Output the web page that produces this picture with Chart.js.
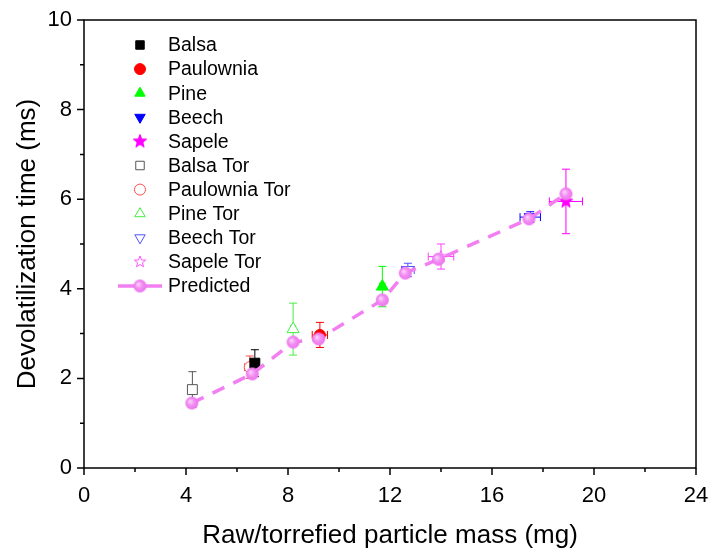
<!DOCTYPE html>
<html>
<head>
<meta charset="utf-8">
<script src="https://cdn.jsdelivr.net/npm/chart.js@4.4.1/dist/chart.umd.min.js"></script>
<style>
  html, body { margin: 0; background: #fff; }
  #wrap { width: 708px; height: 551px; }
</style>
</head>
<body>
<div id="wrap"><canvas id="chart"></canvas></div>
<script>
// --- Values (mass in mg, time in ms) ---
const balsaX = [6.7],   balsaY = [2.34], balsaErrX = [0.15], balsaErrY = [0.3];
const paulX = [9.25],   paulY = [2.97],  paulErrX = [0.3],   paulErrY = [0.28];
const pineX = [11.7],   pineY = [4.05],  pineErrX = [0.1],   pineErrY = [0.45];
const beechX = [17.5],  beechY = [5.6],  beechErrX = [0.4],  beechErrY = [0.12];
const sapeleX = [18.9], sapeleY = [5.95], sapeleErrX = [0.65], sapeleErrY = [0.72];

const balsaTorX = [4.25],  balsaTorY = [1.75],  balsaTorErrX = [0.05], balsaTorErrY = [0.4];
const paulTorX = [6.5],    paulTorY = [2.25],   paulTorErrX = [0.2],   paulTorErrY = [0.25];
const pineTorX = [8.2],    pineTorY = [3.1],    pineTorErrX = [0.1],   pineTorErrY = [0.58];
const beechTorX = [12.7],  beechTorY = [4.42],  beechTorErrX = [0.25], beechTorErrY = [0.15];
const sapeleTorX = [14.0], sapeleTorY = [4.72], sapeleTorErrX = [0.5], sapeleTorErrY = [0.28];

const predX = [4.23, 6.6, 8.2, 9.2, 11.7, 12.6, 13.9, 17.45, 18.9];
const predY = [1.45, 2.1, 2.81, 2.88, 3.75, 4.35, 4.66, 5.56, 6.12];

const xTicks = [0, 4, 8, 12, 16, 20, 24];
const yTicks = [0, 2, 4, 6, 8, 10];

const FONT = "'Liberation Sans', Arial, sans-serif";

// --- marker images (filled / open star, shaded ball) ---
function makeStar(r, fill, stroke) {
  const c = document.createElement('canvas');
  c.width = c.height = Math.ceil(r * 2 + 2);
  const g = c.getContext('2d');
  const cx = c.width / 2, cy = c.height / 2;
  g.beginPath();
  for (let i = 0; i < 10; i++) {
    const rad = i % 2 ? r * 0.42 : r;
    const a = -Math.PI / 2 + i * Math.PI / 5;
    g.lineTo(cx + rad * Math.cos(a), cy + rad * Math.sin(a));
  }
  g.closePath();
  g.fillStyle = fill;
  g.fill();
  g.strokeStyle = stroke;
  g.lineWidth = 1;
  g.stroke();
  return c;
}
function makeBall(r) {
  const c = document.createElement('canvas');
  c.width = c.height = r * 2 + 2;
  const g = c.getContext('2d');
  const cx = c.width / 2, cy = c.height / 2;
  const grad = g.createRadialGradient(cx - r * 0.3, cy - r * 0.3, 0.5, cx, cy, r);
  grad.addColorStop(0, '#fbd4fb');
  grad.addColorStop(0.5, '#f38ef3');
  grad.addColorStop(1, '#ec72ec');
  g.beginPath();
  g.arc(cx, cy, r, 0, Math.PI * 2);
  g.fillStyle = grad;
  g.fill();
  return c;
}
const starFilled = makeStar(7, '#ff00ff', '#ff00ff');
const starOpen = makeStar(6, '#ffffff', '#ff55ff');
const ball = makeBall(6.5);

function series(label, xs, ys, ex, ey, color, style, extra) {
  return Object.assign({
    label: label,
    data: xs.map((x, i) => ({ x: x, y: ys[i], ex: ex[i], ey: ey[i] })),
    errColor: color,
    pointStyle: style,
    pointBorderColor: color,
    pointBackgroundColor: color,
    pointBorderWidth: 1,
    pointRadius: 6,
    order: 1
  }, extra || {});
}

const datasets = [
  series('Balsa', balsaX, balsaY, balsaErrX, balsaErrY, '#000000', 'rect', { pointRadius: 7 }),
  series('Paulownia', paulX, paulY, paulErrX, paulErrY, '#ff0000', 'circle', { pointRadius: 5.5 }),
  series('Pine', pineX, pineY, pineErrX, pineErrY, '#00ff00', 'triangle', { pointRadius: 7 }),
  series('Beech', beechX, beechY, beechErrX, beechErrY, '#0000ff', 'triangle', { pointRadius: 7, pointRotation: 180 }),
  series('Sapele', sapeleX, sapeleY, sapeleErrX, sapeleErrY, '#ff00ff', starFilled),
  series('Balsa Tor', balsaTorX, balsaTorY, balsaTorErrX, balsaTorErrY, '#555555', 'rect', { pointRadius: 7, pointBackgroundColor: '#ffffff' }),
  series('Paulownia Tor', paulTorX, paulTorY, paulTorErrX, paulTorErrY, '#ff5050', 'circle', { pointRadius: 5.5, pointBackgroundColor: '#ffffff' }),
  series('Pine Tor', pineTorX, pineTorY, pineTorErrX, pineTorErrY, '#40f040', 'triangle', { pointRadius: 7, pointBackgroundColor: '#ffffff' }),
  series('Beech Tor', beechTorX, beechTorY, beechTorErrX, beechTorErrY, '#5050ff', 'triangle', { pointRadius: 7, pointRotation: 180, pointBackgroundColor: '#ffffff' }),
  series('Sapele Tor', sapeleTorX, sapeleTorY, sapeleTorErrX, sapeleTorErrY, '#ff40ff', starOpen),
  {
    label: 'Predicted',
    data: predX.map((x, i) => ({ x: x, y: predY[i] })),
    showLine: true,
    borderColor: '#f27ef2',
    borderWidth: 3.5,
    borderDash: [13, 10],
    pointStyle: ball,
    pointRadius: 6.5,
    order: 0
  }
];

// --- error bars, drawn under the markers ---
const errorBars = {
  id: 'errorBars',
  beforeDatasetsDraw(chart) {
    const { ctx, scales: { x, y } } = chart;
    ctx.save();
    ctx.lineWidth = 1;
    chart.data.datasets.forEach(ds => {
      if (!ds.errColor) return;
      ctx.strokeStyle = ds.errColor;
      ds.data.forEach(d => {
        const px = x.getPixelForValue(d.x), py = y.getPixelForValue(d.y);
        const top = y.getPixelForValue(d.y + d.ey), bot = y.getPixelForValue(d.y - d.ey);
        const lft = x.getPixelForValue(d.x - d.ex), rgt = x.getPixelForValue(d.x + d.ex);
        ctx.beginPath();
        ctx.moveTo(px, top); ctx.lineTo(px, bot);
        ctx.moveTo(px - 4, top); ctx.lineTo(px + 4, top);
        ctx.moveTo(px - 4, bot); ctx.lineTo(px + 4, bot);
        if (rgt - lft > 3) {
          ctx.moveTo(lft, py); ctx.lineTo(rgt, py);
          ctx.moveTo(lft, py - 4); ctx.lineTo(lft, py + 4);
          ctx.moveTo(rgt, py - 4); ctx.lineTo(rgt, py + 4);
        }
        ctx.stroke();
      });
    });
    ctx.restore();
  }
};

// --- axis frame with major / minor ticks ---
const frame = {
  id: 'frame',
  beforeDraw(chart) {
    const ctx = chart.ctx;
    ctx.save();
    ctx.fillStyle = '#fff';
    ctx.fillRect(0, 0, chart.width, chart.height);
    ctx.restore();
  },
  afterDraw(chart) {
    const { ctx, chartArea: a, scales: { x, y } } = chart;
    ctx.save();
    ctx.strokeStyle = '#000';
    ctx.lineWidth = 1.5;
    ctx.strokeRect(a.left, a.top, a.right - a.left, a.bottom - a.top);
    ctx.beginPath();
    for (let v = 0; v <= 24; v += 2) {
      const px = x.getPixelForValue(v);
      ctx.moveTo(px, a.bottom); ctx.lineTo(px, a.bottom + (v % 4 === 0 ? 7 : 4));
    }
    for (let v = 0; v <= 10; v += 1) {
      const py = y.getPixelForValue(v);
      ctx.moveTo(a.left, py); ctx.lineTo(a.left - (v % 2 === 0 ? 7 : 4), py);
    }
    ctx.stroke();
    ctx.restore();
  }
};

// --- legend inside the plot, top-left ---
const insideLegend = {
  id: 'insideLegend',
  afterDraw(chart) {
    const ctx = chart.ctx;
    const mx = 140, tx = 168, y0 = 45, step = 24.1;
    ctx.save();
    ctx.font = '19.5px ' + FONT;
    ctx.textBaseline = 'middle';
    ctx.fillStyle = '#000';
    chart.data.datasets.forEach((ds, i) => {
      const yy = y0 + i * step;
      if (ds.showLine) {
        ctx.strokeStyle = ds.borderColor;
        ctx.lineWidth = 3.5;
        ctx.beginPath();
        ctx.moveTo(118, yy); ctx.lineTo(162, yy);
        ctx.stroke();
      }
      ctx.save();
      ctx.fillStyle = ds.pointBackgroundColor || '#fff';
      ctx.strokeStyle = ds.pointBorderColor || '#000';
      ctx.lineWidth = ds.pointBorderWidth || 1;
      Chart.helpers.drawPoint(ctx, {
        pointStyle: ds.pointStyle,
        rotation: ds.pointRotation || 0,
        radius: Math.min(ds.pointRadius, 6),
        borderWidth: ds.pointBorderWidth || 0
      }, mx, yy);
      ctx.restore();
      ctx.fillStyle = '#000';
      ctx.fillText(ds.label, tx, yy + 1);
    });
    ctx.restore();
  }
};

new Chart(document.getElementById('chart'), {
  type: 'scatter',
  data: { datasets: datasets },
  options: {
    responsive: true,
    maintainAspectRatio: false,
    animation: false,
    layout: { padding: { top: 20, right: 12, left: 0, bottom: 0 } },
    plugins: { legend: { display: false }, tooltip: { enabled: false } },
    scales: {
      x: {
        type: 'linear', min: 0, max: 24,
        afterFit: s => { s.height = 83; s.paddingLeft = 0; s.paddingRight = 0; },
        afterBuildTicks: s => { s.ticks = xTicks.map(v => ({ value: v })); },
        grid: { display: false, drawTicks: false },
        border: { display: false },
        ticks: { color: '#000', padding: 15, font: { family: FONT, size: 22 }, maxRotation: 0 },
        title: { display: true, text: 'Raw/torrefied particle mass (mg)', color: '#000',
                 font: { family: FONT, size: 26 }, padding: { top: 0, bottom: 0 } }
      },
      y: {
        type: 'linear', min: 0, max: 10,
        afterFit: s => { s.width = 84; s.paddingTop = 0; s.paddingBottom = 0; },
        afterBuildTicks: s => { s.ticks = yTicks.map(v => ({ value: v })); },
        grid: { display: false, drawTicks: false },
        border: { display: false },
        ticks: { color: '#000', padding: 12, font: { family: FONT, size: 22 } },
        title: { display: true, text: 'Devolatilization time (ms)', color: '#000',
                 font: { family: FONT, size: 26 }, padding: { top: 12, bottom: 0 } }
      }
    }
  },
  plugins: [frame, errorBars, insideLegend]
});
</script>
</body>
</html>
